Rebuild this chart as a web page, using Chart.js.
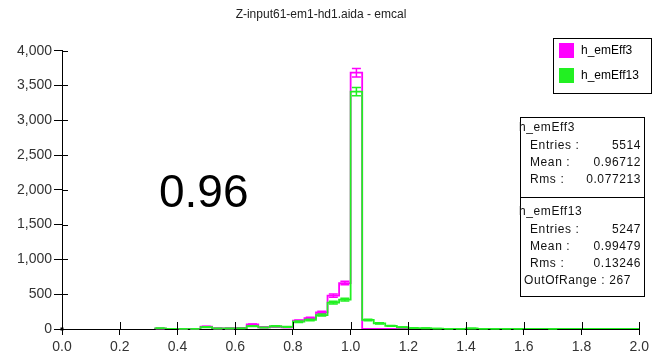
<!DOCTYPE html>
<html>
<head>
<meta charset="utf-8">
<title>Z-input61-em1-hd1.aida - emcal</title>
<script src="https://cdn.jsdelivr.net/npm/chart.js@4.4.1/dist/chart.umd.min.js"></script>
<style>
  html, body { margin: 0; padding: 0; background: #fff; }
  #wrap { position: relative; width: 653px; height: 361px; }
</style>
</head>
<body>
<div id="wrap"><canvas id="c" width="653" height="361"></canvas></div>
<script>
// Histogram bins (lower edges), width 0.04
const binWidth = 0.04;
const binLow = [0.32, 0.36, 0.40, 0.44, 0.48, 0.52, 0.56, 0.60, 0.64, 0.68,
                0.72, 0.76, 0.80, 0.84, 0.88, 0.92, 0.96, 1.00, 1.04, 1.08,
                1.12, 1.16, 1.20, 1.24, 1.28, 1.32, 1.36, 1.40, 1.44, 1.48,
                1.52, 1.56, 1.60, 1.64, 1.68, 1.72, 1.76, 1.80, 1.84, 1.88,
                1.92, 1.96];

// Bin contents
const hEmEff3 = [5, 0, 3, 3, 35, 8, 8, 15, 65, 25,
                 35, 25, 120, 155, 240, 480, 660, 3684, 0, 0,
                 0, 0, 0, 0, 0, 0, 0, 0, 0, 0,
                 0, 0, 0, 0, 0, 0, 0, 0, 0, 0,
                 0, 0];
const hEmEff13 = [10, 0, 2, 2, 28, 8, 8, 10, 42, 22,
                  40, 30, 105, 130, 200, 378, 422, 3412, 130, 82,
                  45, 25, 14, 12, 6, 3, 2, 8, 2, 1,
                  1, 1, 0, 0, 1, 0, 0, 0, 0, 0,
                  0, 0];

const seriesNames = ['h_emEff3', 'h_emEff13'];
const seriesColors = ['#ff00ff', '#22f022'];

// Statistics panel
const statBlocks = [
  { name: 'h_emEff3',  rows: [['Entries :', '5514'], ['Mean :', '0.96712'], ['Rms :', '0.077213']] },
  { name: 'h_emEff13', rows: [['Entries :', '5247'], ['Mean :', '0.99479'], ['Rms :', '0.13246']],
    extra: 'OutOfRange : 267' }
];
const bigLabel = '0.96';
const titleText = 'Z-input61-em1-hd1.aida - emcal';

const xTicks = { min: 0, max: 2, step: 0.2 };
const yTicks = { min: 0, max: 4000, step: 500 };

const FONT = "'Liberation Sans', Arial, sans-serif";

function stepPoints(vals) {
  const pts = binLow.map((x, i) => ({ x: x, y: vals[i] }));
  pts.push({ x: binLow[binLow.length - 1] + binWidth, y: vals[vals.length - 1] });
  return pts;
}

// Error bars (sqrt(N)) at bin centres, plus inner half of the axis ticks
const errorBars = {
  id: 'errorBars',
  afterDatasetsDraw(chart) {
    const ctx = chart.ctx, xs = chart.scales.x, ys = chart.scales.y;
    ctx.save();
    [0, 1].forEach(di => {
      const vals = chart.data.datasets[di].binValues;
      ctx.strokeStyle = seriesColors[di];
      ctx.lineWidth = 1.5;
      vals.forEach((v, i) => {
        if (v <= 0) return;
        const e = Math.sqrt(v);
        const cx = xs.getPixelForValue(binLow[i] + binWidth / 2);
        const yt = ys.getPixelForValue(v + e);
        const yb = ys.getPixelForValue(Math.max(v - e, 0));
        const hw = 4.5;
        ctx.beginPath();
        ctx.moveTo(cx, yt); ctx.lineTo(cx, yb);
        ctx.moveTo(cx - hw, yt); ctx.lineTo(cx + hw, yt);
        ctx.moveTo(cx - hw, yb); ctx.lineTo(cx + hw, yb);
        ctx.stroke();
      });
    });
    ctx.restore();
  },
  afterDraw(chart) {
    const ctx = chart.ctx, xs = chart.scales.x, ys = chart.scales.y;
    const a = chart.chartArea;
    ctx.save();
    ctx.strokeStyle = '#000';
    ctx.lineWidth = 1;
    ctx.beginPath();
    ys.ticks.forEach(t => {
      const y = Math.round(ys.getPixelForValue(t.value)) + 0.5;
      ctx.moveTo(a.left, y); ctx.lineTo(a.left + 6, y);
    });
    xs.ticks.forEach(t => {
      const x = Math.round(xs.getPixelForValue(t.value)) + 0.5;
      ctx.moveTo(x, a.bottom); ctx.lineTo(x, a.bottom - 7);
    });
    ctx.stroke();
    ctx.fillStyle = '#000';
    ctx.fillRect(a.left - 1.5, a.bottom - 1.5, 3, 3);
    ctx.restore();
  }
};

// Legend box and statistics panel drawn inside the plot
const panels = {
  id: 'panels',
  afterDraw(chart) {
    const ctx = chart.ctx;
    ctx.save();
    ctx.textBaseline = 'middle';

    // legend
    ctx.fillStyle = '#fff';
    ctx.fillRect(553.5, 38.5, 98, 55);
    ctx.strokeStyle = '#000';
    ctx.lineWidth = 1;
    ctx.strokeRect(553.5, 38.5, 98, 55);
    const legendRows = [51, 76];
    chart.data.datasets.forEach((ds, i) => {
      ctx.fillStyle = seriesColors[i];
      ctx.fillRect(559, legendRows[i] - 8, 15, 15);
      ctx.fillStyle = '#000';
      ctx.font = '12px ' + FONT;
      ctx.textAlign = 'left';
      ctx.fillText(ds.label, 581, legendRows[i]);
    });

    // statistics
    const left = 520.5, right = 644.5, top = 117.5, divider = 197.5, bottom = 296.5;
    ctx.fillStyle = '#fff';
    ctx.fillRect(left, top, right - left, bottom - top);
    ctx.strokeStyle = '#000';
    ctx.strokeRect(left, top, right - left, bottom - top);
    ctx.beginPath();
    ctx.moveTo(left, divider); ctx.lineTo(right, divider);
    ctx.stroke();
    ctx.fillStyle = '#111';
    ctx.font = '12px ' + FONT;
    if ('letterSpacing' in ctx) ctx.letterSpacing = '0.6px';
    const rowH = 17.2;
    let y = 128;
    statBlocks.forEach((b, bi) => {
      if (bi === 1) y = 212;
      ctx.textAlign = 'left';
      ctx.fillText(b.name, 519, y);
      y += rowH;
      b.rows.forEach(r => {
        ctx.textAlign = 'left';
        ctx.fillText(r[0], 530, y);
        ctx.textAlign = 'right';
        ctx.fillText(r[1], 641, y);
        y += rowH;
      });
      if (b.extra) {
        ctx.textAlign = 'left';
        ctx.fillText(b.extra, 524, y);
      }
    });
    if ('letterSpacing' in ctx) ctx.letterSpacing = '0px';

    // value annotation
    ctx.fillStyle = '#000';
    ctx.textAlign = 'left';
    ctx.textBaseline = 'alphabetic';
    ctx.font = '46px ' + FONT;
    ctx.fillText(bigLabel, 159, 207);
    ctx.restore();
  }
};

new Chart(document.getElementById('c'), {
  type: 'line',
  data: {
    datasets: [
      { label: seriesNames[0], data: stepPoints(hEmEff3), binValues: hEmEff3,
        borderColor: seriesColors[0], borderWidth: 1.8, stepped: true,
        pointRadius: 0, fill: false, order: 1 },
      { label: seriesNames[1], data: stepPoints(hEmEff13), binValues: hEmEff13,
        borderColor: seriesColors[1], borderWidth: 1.8, stepped: true,
        pointRadius: 0, fill: false, order: 0 }
    ]
  },
  options: {
    responsive: false,
    animation: false,
    devicePixelRatio: 1,
    layout: { padding: { left: 0, right: 11, top: 0, bottom: 0 } },
    plugins: {
      legend: { display: false },
      tooltip: { enabled: false },
      title: {
        display: true, text: titleText, color: '#222',
        font: { family: FONT, size: 12, weight: 'normal' },
        padding: { top: 7, bottom: 29.3 }
      }
    },
    scales: {
      x: {
        type: 'linear', min: xTicks.min, max: xTicks.max,
        afterFit(s) { s.height = 32; },
        border: { display: true, color: '#000', width: 1 },
        grid: { drawOnChartArea: false, color: '#000', tickLength: 6 },
        ticks: {
          stepSize: xTicks.step, color: '#333', padding: 4,
          font: { family: FONT, size: 14 },
          callback: v => Number(v).toFixed(1)
        }
      },
      y: {
        type: 'linear', min: yTicks.min, max: yTicks.max,
        afterFit(s) { s.width = 62; },
        border: { display: true, color: '#000', width: 1 },
        grid: { drawOnChartArea: false, color: '#000', tickLength: 8 },
        ticks: {
          stepSize: yTicks.step, color: '#333', padding: 2,
          font: { family: FONT, size: 14 },
          callback: v => Number(v).toLocaleString('en-US')
        }
      }
    }
  },
  plugins: [errorBars, panels]
});
</script>
</body>
</html>
